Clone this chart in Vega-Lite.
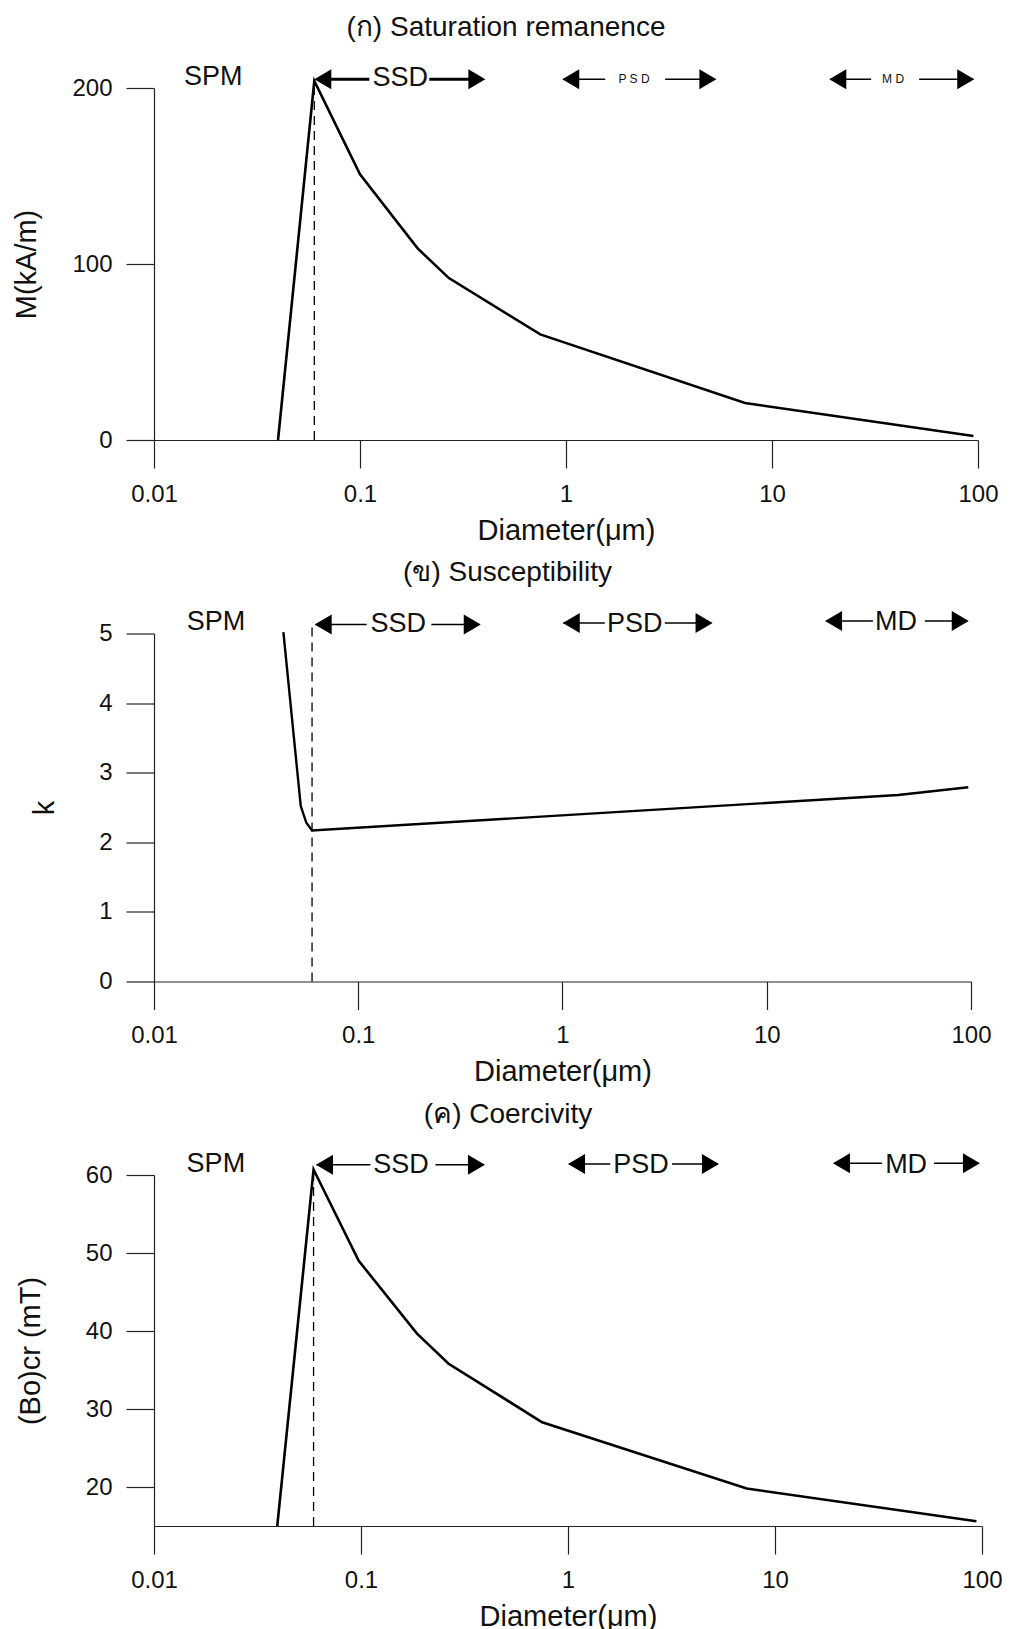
{
  "$schema": "https://vega.github.io/schema/vega-lite/v6.json",
  "padding": {"left": 12, "top": 13, "right": 5, "bottom": 3},
  "bounds": "flush",
  "spacing": 193.5,
  "config": {
    "font": "Liberation Sans",
    "view": {"stroke": null},
    "axis": {
      "grid": false,
      "domainColor": "#222",
      "tickColor": "#222",
      "domainWidth": 1.2,
      "tickWidth": 1.2,
      "tickSize": 28,
      "labelFontSize": 24,
      "labelColor": "#111",
      "labelPadding": 14,
      "labelFlush": false,
      "labelOverlap": false,
      "titleFontSize": 29,
      "titleFontWeight": "normal",
      "titleColor": "#111",
      "titlePadding": 10
    },
    "axisY": {"titleBaseline": "middle", "titleAngle": -90},
    "title": {"fontSize": 28, "fontWeight": "normal", "offset": 21, "baseline": "bottom", "color": "#111"}
  },
  "datasets": {
    "curves": [
      {"panel": "a", "d": 0.04, "v": 0},
      {"panel": "a", "d": 0.06, "v": 204},
      {"panel": "a", "d": 0.1, "v": 151},
      {"panel": "a", "d": 0.19, "v": 109},
      {"panel": "a", "d": 0.27, "v": 92},
      {"panel": "a", "d": 0.75, "v": 60},
      {"panel": "a", "d": 7.4, "v": 21},
      {"panel": "a", "d": 95, "v": 2.3},
      {"panel": "b", "d": 0.043, "v": 5.02},
      {"panel": "b", "d": 0.0523, "v": 2.52},
      {"panel": "b", "d": 0.0557, "v": 2.28},
      {"panel": "b", "d": 0.0594, "v": 2.17},
      {"panel": "b", "d": 44, "v": 2.68},
      {"panel": "b", "d": 97, "v": 2.79},
      {"panel": "c", "d": 0.0394, "v": 15},
      {"panel": "c", "d": 0.059, "v": 60.7},
      {"panel": "c", "d": 0.0975, "v": 49},
      {"panel": "c", "d": 0.186, "v": 39.7},
      {"panel": "c", "d": 0.265, "v": 35.8},
      {"panel": "c", "d": 0.75, "v": 28.3},
      {"panel": "c", "d": 7.3, "v": 19.8},
      {"panel": "c", "d": 94, "v": 15.6}
    ],
    "guides": [
      {"panel": "a", "d": 0.06, "v": 0, "v2": 200},
      {"panel": "b", "d": 0.0594, "v": 0, "v2": 5.1},
      {"panel": "c", "d": 0.059, "v": 15, "v2": 60}
    ],
    "segs": [
      {"panel": "a", "label": "SSD", "d": 0.062, "d2": 0.111, "v": 205},
      {"panel": "a", "label": "SSD", "d": 0.217, "d2": 0.39, "v": 205},
      {"panel": "a", "label": "PSD", "d": 0.97, "d2": 1.55, "v": 205},
      {"panel": "a", "label": "PSD", "d": 3.03, "d2": 5.3, "v": 205},
      {"panel": "a", "label": "MD", "d": 19.2, "d2": 30.3, "v": 205},
      {"panel": "a", "label": "MD", "d": 51.8, "d2": 95, "v": 205},
      {"panel": "b", "label": "SSD", "d": 0.062, "d2": 0.11, "v": 5.13},
      {"panel": "b", "label": "SSD", "d": 0.228, "d2": 0.39, "v": 5.13},
      {"panel": "b", "label": "PSD", "d": 1.01, "d2": 1.61, "v": 5.15},
      {"panel": "b", "label": "PSD", "d": 3.17, "d2": 5.35, "v": 5.15},
      {"panel": "b", "label": "MD", "d": 19.5, "d2": 33.1, "v": 5.18},
      {"panel": "b", "label": "MD", "d": 59.4, "d2": 96, "v": 5.18},
      {"panel": "c", "label": "SSD", "d": 0.061, "d2": 0.111, "v": 61.3},
      {"panel": "c", "label": "SSD", "d": 0.229, "d2": 0.39, "v": 61.3},
      {"panel": "c", "label": "PSD", "d": 1.01, "d2": 1.6, "v": 61.4},
      {"panel": "c", "label": "PSD", "d": 3.18, "d2": 5.3, "v": 61.4},
      {"panel": "c", "label": "MD", "d": 19.3, "d2": 32.9, "v": 61.5},
      {"panel": "c", "label": "MD", "d": 58.6, "d2": 96, "v": 61.5}
    ],
    "heads": [
      {"panel": "a", "dir": "L", "d": 0.06, "v": 205},
      {"panel": "a", "dir": "R", "d": 0.406, "v": 205},
      {"panel": "a", "dir": "L", "d": 0.959, "v": 205},
      {"panel": "a", "dir": "R", "d": 5.37, "v": 205},
      {"panel": "a", "dir": "L", "d": 18.97, "v": 205},
      {"panel": "a", "dir": "R", "d": 95.9, "v": 205},
      {"panel": "b", "dir": "L", "d": 0.0612, "v": 5.13},
      {"panel": "b", "dir": "R", "d": 0.398, "v": 5.13},
      {"panel": "b", "dir": "L", "d": 1.003, "v": 5.15},
      {"panel": "b", "dir": "R", "d": 5.43, "v": 5.15},
      {"panel": "b", "dir": "L", "d": 19.3, "v": 5.18},
      {"panel": "b", "dir": "R", "d": 97.5, "v": 5.18},
      {"panel": "c", "dir": "L", "d": 0.0606, "v": 61.3},
      {"panel": "c", "dir": "R", "d": 0.397, "v": 61.3},
      {"panel": "c", "dir": "L", "d": 1.0, "v": 61.4},
      {"panel": "c", "dir": "R", "d": 5.36, "v": 61.4},
      {"panel": "c", "dir": "L", "d": 19.05, "v": 61.5},
      {"panel": "c", "dir": "R", "d": 97.7, "v": 61.5}
    ],
    "labels": [
      {"panel": "a", "label": "SPM", "d": 0.0194, "v": 206.5},
      {"panel": "a", "label": "SSD", "d": 0.157, "v": 205.5},
      {"panel": "a", "label": "P    S    D", "d": 2.14, "v": 205},
      {"panel": "a", "label": "M    D", "d": 38.7, "v": 205},
      {"panel": "b", "label": "SPM", "d": 0.0201, "v": 5.16},
      {"panel": "b", "label": "SSD", "d": 0.157, "v": 5.13},
      {"panel": "b", "label": "PSD", "d": 2.26, "v": 5.14},
      {"panel": "b", "label": "MD", "d": 42.9, "v": 5.17},
      {"panel": "c", "label": "SPM", "d": 0.0199, "v": 61.45},
      {"panel": "c", "label": "SSD", "d": 0.156, "v": 61.3},
      {"panel": "c", "label": "PSD", "d": 2.25, "v": 61.3},
      {"panel": "c", "label": "MD", "d": 43, "v": 61.3}
    ]
  },
  "vconcat": [
    {
      "width": 824,
      "height": 352,
      "title": {"text": "(ก) Saturation remanence", "dx": -60},
      "encoding": {
        "x": {"field": "d", "type": "quantitative", "scale": {"type": "log", "domain": [0.01, 100]}, "axis": {"values": [0.01, 0.1, 1, 10, 100], "format": "~g", "title": "Diameter(μm)"}},
        "y": {"field": "v", "type": "quantitative", "scale": {"domain": [0, 200]}, "axis": {"values": [0, 100, 200], "title": "M(kA/m)", "titleX": -127.5}}
      },
      "layer": [
        {"data": {"name": "curves"}, "transform": [{"filter": "datum.panel === 'a'"}], "mark": {"type": "line", "color": "black", "strokeWidth": 2.6}},
        {"data": {"name": "guides"}, "transform": [{"filter": "datum.panel === 'a'"}], "mark": {"type": "rule", "color": "black", "strokeWidth": 1.3, "strokeDash": [9, 6]}, "encoding": {"y2": {"field": "v2"}}},
        {"data": {"name": "segs"}, "transform": [{"filter": "datum.panel === 'a'"}], "mark": {"type": "rule", "color": "black"}, "encoding": {"x2": {"field": "d2"}, "strokeWidth": {"condition": {"test": "datum.label === 'SSD'", "value": 3}, "value": 1.5}}},
        {"data": {"name": "heads"}, "transform": [{"filter": "datum.panel === 'a' && datum.dir === 'L'"}], "mark": {"type": "point", "shape": "M0,0L1.7,-1L1.7,1Z", "filled": true, "color": "black", "opacity": 1, "size": 400, "strokeWidth": 0}},
        {"data": {"name": "heads"}, "transform": [{"filter": "datum.panel === 'a' && datum.dir === 'R'"}], "mark": {"type": "point", "shape": "M0,0L-1.7,-1L-1.7,1Z", "filled": true, "color": "black", "opacity": 1, "size": 400, "strokeWidth": 0}},
        {"data": {"name": "labels"}, "transform": [{"filter": "datum.panel === 'a'"}], "mark": {"type": "text", "color": "#111", "baseline": "middle", "align": "center"}, "encoding": {"text": {"field": "label"}, "size": {"condition": {"test": "datum.label !== 'SPM' && datum.label !== 'SSD'", "value": 12}, "value": 27}}}
      ]
    },
    {
      "width": 817,
      "height": 348,
      "title": {"text": "(ข) Susceptibility", "dx": -55},
      "encoding": {
        "x": {"field": "d", "type": "quantitative", "scale": {"type": "log", "domain": [0.01, 100]}, "axis": {"values": [0.01, 0.1, 1, 10, 100], "format": "~g", "title": "Diameter(μm)"}},
        "y": {"field": "v", "type": "quantitative", "scale": {"domain": [0, 5]}, "axis": {"values": [0, 1, 2, 3, 4, 5], "title": "k", "titleX": -110}}
      },
      "layer": [
        {"data": {"name": "curves"}, "transform": [{"filter": "datum.panel === 'b'"}], "mark": {"type": "line", "color": "black", "strokeWidth": 2.4}},
        {"data": {"name": "guides"}, "transform": [{"filter": "datum.panel === 'b'"}], "mark": {"type": "rule", "color": "black", "strokeWidth": 1.3, "strokeDash": [9, 6]}, "encoding": {"y2": {"field": "v2"}}},
        {"data": {"name": "segs"}, "transform": [{"filter": "datum.panel === 'b'"}], "mark": {"type": "rule", "color": "black", "strokeWidth": 1.5}, "encoding": {"x2": {"field": "d2"}}},
        {"data": {"name": "heads"}, "transform": [{"filter": "datum.panel === 'b' && datum.dir === 'L'"}], "mark": {"type": "point", "shape": "M0,0L1.7,-1L1.7,1Z", "filled": true, "color": "black", "opacity": 1, "size": 400, "strokeWidth": 0}},
        {"data": {"name": "heads"}, "transform": [{"filter": "datum.panel === 'b' && datum.dir === 'R'"}], "mark": {"type": "point", "shape": "M0,0L-1.7,-1L-1.7,1Z", "filled": true, "color": "black", "opacity": 1, "size": 400, "strokeWidth": 0}},
        {"data": {"name": "labels"}, "transform": [{"filter": "datum.panel === 'b'"}], "mark": {"type": "text", "color": "#111", "baseline": "middle", "align": "center", "fontSize": 27}, "encoding": {"text": {"field": "label"}}}
      ]
    },
    {
      "width": 828,
      "height": 351,
      "title": {"text": "(ค) Coercivity", "dx": -60},
      "encoding": {
        "x": {"field": "d", "type": "quantitative", "scale": {"type": "log", "domain": [0.01, 100]}, "axis": {"values": [0.01, 0.1, 1, 10, 100], "format": "~g", "title": "Diameter(μm)"}},
        "y": {"field": "v", "type": "quantitative", "scale": {"domain": [15, 60], "zero": false}, "axis": {"values": [20, 30, 40, 50, 60], "title": "(Bo)cr (mT)", "titleX": -123.5}}
      },
      "layer": [
        {"data": {"name": "curves"}, "transform": [{"filter": "datum.panel === 'c'"}], "mark": {"type": "line", "color": "black", "strokeWidth": 2.6}},
        {"data": {"name": "guides"}, "transform": [{"filter": "datum.panel === 'c'"}], "mark": {"type": "rule", "color": "black", "strokeWidth": 1.3, "strokeDash": [9, 6]}, "encoding": {"y2": {"field": "v2"}}},
        {"data": {"name": "segs"}, "transform": [{"filter": "datum.panel === 'c'"}], "mark": {"type": "rule", "color": "black", "strokeWidth": 1.5}, "encoding": {"x2": {"field": "d2"}}},
        {"data": {"name": "heads"}, "transform": [{"filter": "datum.panel === 'c' && datum.dir === 'L'"}], "mark": {"type": "point", "shape": "M0,0L1.7,-1L1.7,1Z", "filled": true, "color": "black", "opacity": 1, "size": 400, "strokeWidth": 0}},
        {"data": {"name": "heads"}, "transform": [{"filter": "datum.panel === 'c' && datum.dir === 'R'"}], "mark": {"type": "point", "shape": "M0,0L-1.7,-1L-1.7,1Z", "filled": true, "color": "black", "opacity": 1, "size": 400, "strokeWidth": 0}},
        {"data": {"name": "labels"}, "transform": [{"filter": "datum.panel === 'c'"}], "mark": {"type": "text", "color": "#111", "baseline": "middle", "align": "center", "fontSize": 27}, "encoding": {"text": {"field": "label"}}}
      ]
    }
  ]
}
